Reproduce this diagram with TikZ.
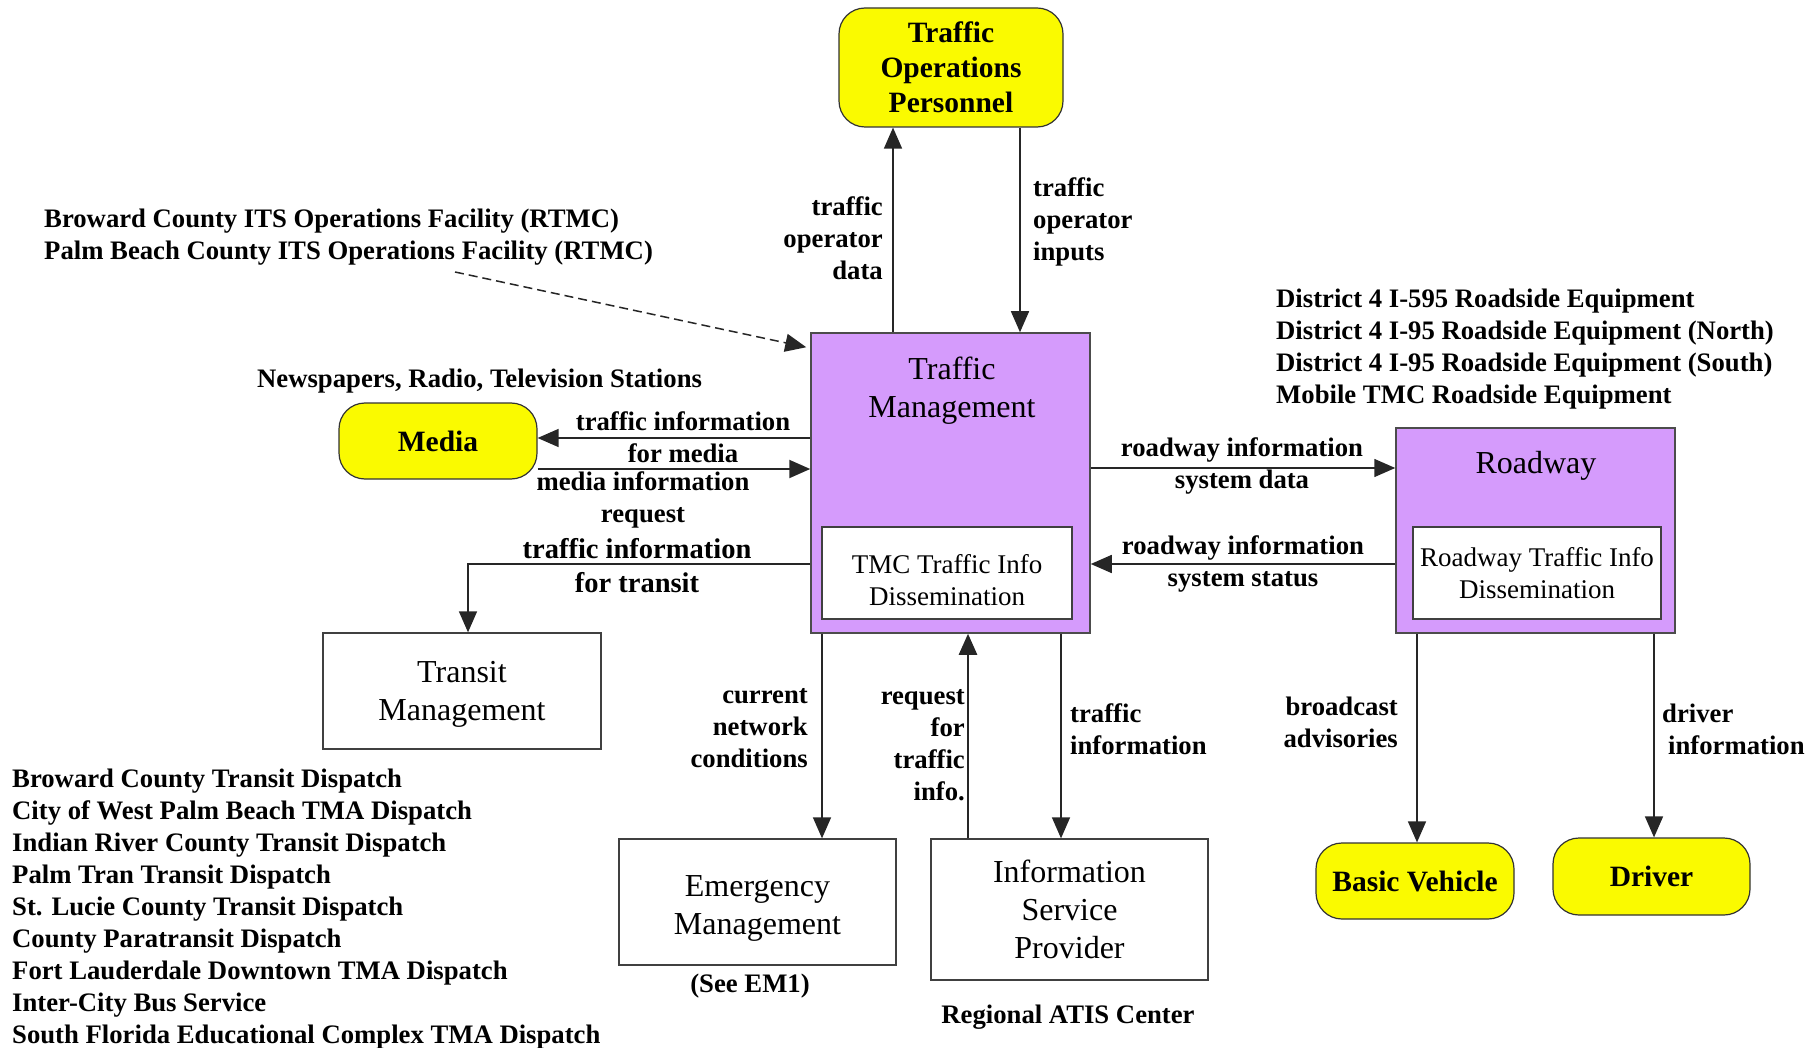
\documentclass[tikz,border=0pt]{standalone}
\usepackage{fontspec}
\setmainfont{Liberation Serif}
\usetikzlibrary{arrows.meta,calc}
\definecolor{tmpurple}{RGB}{213,155,252}
\definecolor{extyellow}{RGB}{250,250,0}
\newcommand\lblf{\fontsize{26.7}{32}\selectfont\bfseries}
\newcommand\lblbigf{\fontsize{28.5}{34}\selectfont\bfseries}
\newcommand\titf{\fontsize{32}{38}\selectfont}
\newcommand\subf{\fontsize{27}{32}\selectfont}
\newcommand\extf{\fontsize{29.5}{35}\selectfont\bfseries}
\begin{document}
\begin{tikzpicture}[x=1pt,y=-1pt,
  lbl/.style={font=\lblf, inner sep=0pt, yshift=-3pt},
  ext/.style={draw=black!80, line width=1.2pt, fill=extyellow, rounded corners=26pt, font=\extf, align=center, inner sep=0pt},
  sys/.style={draw=black!70, line width=1.5pt, fill=tmpurple, inner sep=0pt},
  wbox/.style={draw=black!75, line width=1.3pt, fill=white, inner sep=0pt, align=center},
  boxtext/.style={inner sep=0pt, align=center},
  flow/.style={draw=black!85, line width=1.5pt, -{Triangle[length=21pt,width=18pt]}},
]
\useasboundingbox (0,0) rectangle (1820,1048);

% column / row helper coordinates
\coordinate (c893) at (893,0);
\coordinate (c1020) at (1020,0);
\coordinate (c468) at (468,0);
\coordinate (c822) at (822,0);
\coordinate (c968) at (968,0);
\coordinate (c1061) at (1061,0);
\coordinate (c1417) at (1417,0);
\coordinate (c1654) at (1654,0);
\coordinate (r438) at (0,438);
\coordinate (r469) at (0,469);
\coordinate (r564) at (0,564);
\coordinate (r468) at (0,468);

% systems
\node[sys, minimum width=279pt, minimum height=300pt] (tm) at (950.5,483) {};
\node[boxtext, font=\titf] (tmt) at (952,391) {Traffic\\Management};
\node[wbox, minimum width=250pt, minimum height=92pt] (tmc) at (947,573) {};
\node[boxtext, font=\subf] (tmct) at (947,580) {TMC Traffic Info\\Dissemination};

\node[sys, minimum width=279pt, minimum height=205pt] (rw) at (1535.5,530.5) {};
\node[boxtext, font=\titf] (rwt) at (1536,466) {Roadway};
\node[wbox, font=\subf, minimum width=248pt, minimum height=92pt] (rwi) at (1537,573) {Roadway Traffic Info\\Dissemination};

\node[wbox, minimum width=278pt, minimum height=116pt] (tr) at (462,691) {};
\node[boxtext, font=\titf] (trt) at (462,694) {Transit\\Management};
\node[wbox, minimum width=277pt, minimum height=126pt] (em) at (757.5,902) {};
\node[boxtext, font=\titf] (emt) at (757.5,908) {Emergency\\Management};
\node[wbox, font=\titf, minimum width=277pt, minimum height=141pt] (isp) at (1069.5,909.5) {Information\\Service\\Provider};

% terminators
\node[ext, minimum width=224pt, minimum height=119pt] (top) at (951,67.5) {Traffic\\Operations\\Personnel};
\node[ext, minimum width=198pt, minimum height=76pt] (media) at (438,441) {Media};
\node[ext, minimum width=198pt, minimum height=76pt] (bv) at (1415,881) {Basic Vehicle};
\node[ext, minimum width=197pt, minimum height=77pt] (drv) at (1651.5,876.5) {Driver};

% flows
\draw[flow] (tm.north -| c893) -- (top.south -| c893);
\draw[flow] (top.south -| c1020) -- (tm.north -| c1020);
\coordinate (dstart) at (455,272);
\draw[flow, dash pattern=on 9pt off 5pt] (dstart) -- ($(tm.north west)+(-4,15)$);
\draw[flow] (tm.west |- r438) -- (media.east |- r438);
\draw[flow, line width=2pt] (media.east |- r469) -- (tm.west |- r469);
\draw[flow] (tm.west |- r564) -| (tr.north -| c468);
\draw[flow] (tm.east |- r468) -- (rw.west |- r468);
\draw[flow] (rw.west |- r564) -- (tm.east |- r564);
\draw[flow] (tm.south -| c822) -- (em.north -| c822);
\draw[flow, line width=2.5pt] (isp.north -| c968) -- (tm.south -| c968);
\draw[flow] (tm.south -| c1061) -- (isp.north -| c1061);
\draw[flow] (rw.south -| c1417) -- (bv.north -| c1417);
\draw[flow] (rw.south -| c1654) -- (drv.north -| c1654);

% flow labels
\node[lbl, anchor=east, align=right] (l1) at (883,235) {traffic\\operator\\data};
\node[lbl, anchor=west, align=left] (l2) at (1033,219) {traffic\\operator\\inputs};
\node[lbl, align=center] (l3) at (683,434) {traffic information\\for media};
\node[lbl, align=center] (l4) at (643,497) {media information\\request};
\node[lbl, font=\lblbigf, align=center] (l5) at (637,563) {traffic information\\for transit};
\node[lbl, align=center] (l6) at (1242,463) {roadway information\\system data};
\node[lbl, align=center] (l7) at (1243,561) {roadway information\\system status};
\node[lbl, anchor=east, align=right] (l8) at (808,725) {current\\network\\conditions};
\node[lbl, anchor=east, align=right] (l9) at (965,742) {request\\for\\traffic\\info.};
\node[lbl, anchor=west, align=left] (l10) at (1070,726) {traffic\\information};
\node[lbl, anchor=east, align=right] (l11) at (1398,719) {broadcast\\advisories};
\node[lbl, anchor=west, align=left] (l12) at (1662,726) {driver\\\hspace*{6pt}information};

% annotations
\node[lbl, anchor=west, align=left] (a1) at (44,234.5) {Broward County ITS Operations Facility (RTMC)\\Palm Beach County ITS Operations Facility (RTMC)};
\node[lbl, anchor=west] (a2) at (257,378) {Newspapers, Radio, Television Stations};
\node[lbl, anchor=west, align=left] (a3) at (1276,346.5) {District 4 I-595 Roadside Equipment\\District 4 I-95 Roadside Equipment (North)\\District 4 I-95 Roadside Equipment (South)\\Mobile TMC Roadside Equipment};
\node[lbl, anchor=west, align=left] (a4) at (12,906) {Broward County Transit Dispatch\\City of West Palm Beach TMA Dispatch\\Indian River County Transit Dispatch\\Palm Tran Transit Dispatch\\St. Lucie County Transit Dispatch\\County Paratransit Dispatch\\Fort Lauderdale Downtown TMA Dispatch\\Inter-City Bus Service\\South Florida Educational Complex TMA Dispatch};
\node[lbl] (a5) at (750,983) {(See EM1)};
\node[lbl] (a6) at (1068,1014) {Regional ATIS Center};
\end{tikzpicture}
\end{document}
